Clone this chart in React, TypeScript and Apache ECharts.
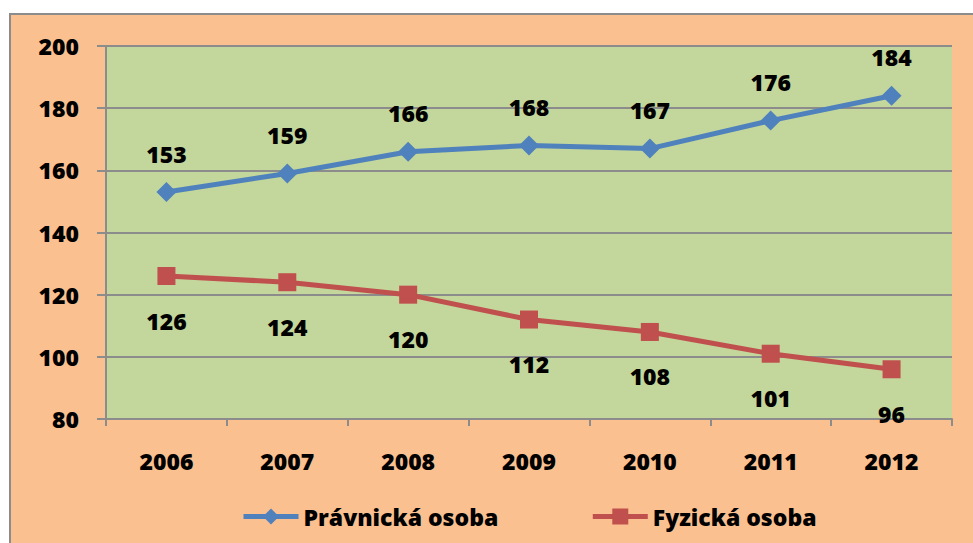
import React, { useEffect, useRef } from "react";
import * as echarts from "echarts";

const years = ["2006", "2007", "2008", "2009", "2010", "2011", "2012"];
const pravnicka = [153, 159, 166, 168, 167, 176, 184];
const fyzicka = [126, 124, 120, 112, 108, 101, 96];
const seriesNames = ["Právnická osoba", "Fyzická osoba"];

const FONT = "'Open Sans', 'Liberation Sans', sans-serif";
const WEIGHT = 800;

export default function App() {
  const ref = useRef<HTMLDivElement>(null);
  useEffect(() => {
    if (!ref.current) return;
    const chart = echarts.init(ref.current, null, { renderer: "svg" });
    chart.setOption({
      animation: false,
      backgroundColor: "#ffffff",
      graphic: [
        {
          type: "rect",
          z: -10,
          silent: true,
          shape: { x: 10, y: 14, width: 1000, height: 560 },
          style: { fill: "#FAC090", stroke: "#8c8c8c", lineWidth: 2 },
        },
      ],
      grid: { left: 106, top: 46, right: 21, bottom: 124, show: true, backgroundColor: "#C3D69B", borderWidth: 0 },
      legend: {
        left: 236,
        top: 500,
        itemWidth: 55,
        itemHeight: 20,
        itemGap: 92,
        lineStyle: { width: 5 },
        textStyle: { fontFamily: FONT, fontWeight: WEIGHT, fontSize: 23, color: "#000" },
        data: seriesNames,
      },
      xAxis: {
        type: "category",
        data: years,
        boundaryGap: true,
        axisLine: { lineStyle: { color: "#8c8c8c", width: 2 } },
        axisTick: { show: true, length: 7, lineStyle: { color: "#8c8c8c", width: 2 } },
        axisLabel: { margin: 30, fontFamily: FONT, fontWeight: WEIGHT, fontSize: 23, color: "#000" },
      },
      yAxis: {
        type: "value",
        min: 80,
        max: 200,
        interval: 20,
        axisLine: { show: true, lineStyle: { color: "#8c8c8c", width: 2 } },
        axisTick: { show: true, length: 9, lineStyle: { color: "#8c8c8c", width: 2 } },
        splitLine: { lineStyle: { color: "#8c8c8c", width: 2 } },
        axisLabel: { margin: 27, fontFamily: FONT, fontWeight: WEIGHT, fontSize: 23, color: "#000" },
      },
      series: [
        {
          name: seriesNames[0],
          type: "line",
          data: pravnicka,
          symbol: "diamond",
          symbolSize: 20,
          color: "#4F81BD",
          lineStyle: { width: 5, color: "#4F81BD" },
          label: { show: true, position: "top", distance: 17, fontFamily: FONT, fontWeight: WEIGHT, fontSize: 23, color: "#000" },
        },
        {
          name: seriesNames[1],
          type: "line",
          data: fyzicka,
          symbol: "rect",
          symbolSize: 18,
          color: "#C0504D",
          lineStyle: { width: 5, color: "#C0504D" },
          label: { show: true, position: "bottom", distance: 24, fontFamily: FONT, fontWeight: WEIGHT, fontSize: 23, color: "#000" },
        },
      ],
    });
    return () => chart.dispose();
  }, []);
  return <div ref={ref} style={{ position: "absolute", left: 0, top: 0, width: 973, height: 543 }} />;
}
